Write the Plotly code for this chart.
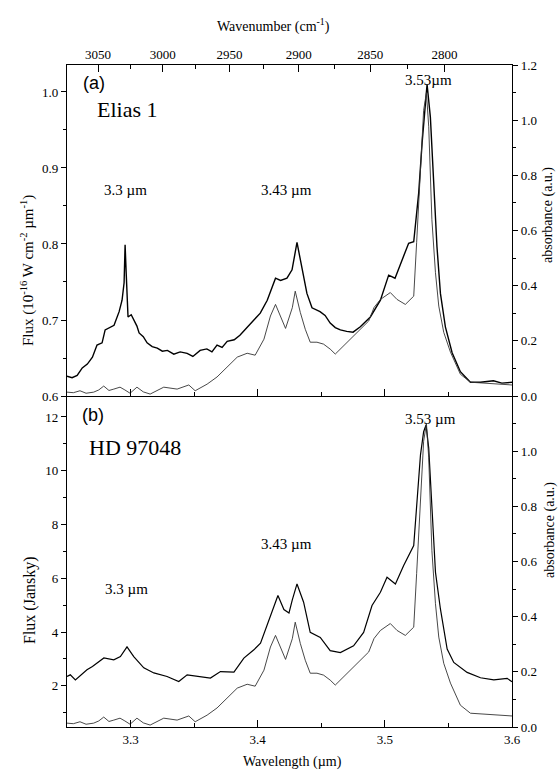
import plotly.graph_objects as go

# ---------------- data ----------------
wl_elias = [3.250, 3.254, 3.258, 3.262, 3.266, 3.270, 3.2736, 3.2776, 3.280, 3.284, 3.287, 3.291,
            3.2933, 3.2949, 3.2957, 3.2966, 3.298, 3.3005, 3.3028, 3.305, 3.3067, 3.310, 3.313, 3.317,
            3.321, 3.325, 3.329, 3.334, 3.339, 3.3445, 3.349, 3.3547, 3.360, 3.364, 3.368, 3.372, 3.376,
            3.3815, 3.386, 3.3917, 3.397, 3.402, 3.4075, 3.414, 3.418, 3.423, 3.427, 3.4309, 3.4348,
            3.4387, 3.4427, 3.449, 3.453, 3.457, 3.461, 3.465, 3.470, 3.475, 3.4807, 3.4886, 3.4965,
            3.503, 3.508, 3.5135, 3.5187, 3.5227, 3.5266, 3.5293, 3.532, 3.5332, 3.5358, 3.5384, 3.541,
            3.5437, 3.5476, 3.5529, 3.5594, 3.5673, 3.5752, 3.5854, 3.592, 3.600]
flux_elias = [0.626, 0.624, 0.627, 0.637, 0.642, 0.651, 0.667, 0.670, 0.687, 0.690, 0.693, 0.711,
              0.726, 0.749, 0.799, 0.760, 0.704, 0.707, 0.700, 0.692, 0.683, 0.678, 0.670, 0.665,
              0.663, 0.659, 0.660, 0.655, 0.658, 0.656, 0.652, 0.660, 0.662, 0.658, 0.667, 0.664, 0.672,
              0.674, 0.680, 0.691, 0.700, 0.709, 0.726, 0.755, 0.752, 0.755, 0.766, 0.802, 0.770,
              0.735, 0.716, 0.711, 0.706, 0.696, 0.690, 0.687, 0.685, 0.684, 0.691, 0.704, 0.726,
              0.759, 0.755, 0.779, 0.801, 0.803, 0.867, 0.933, 0.989, 1.010, 0.967, 0.888, 0.796,
              0.735, 0.691, 0.657, 0.632, 0.618, 0.618, 0.620, 0.617, 0.618]

wl_abs = [3.250, 3.255, 3.2602, 3.265, 3.271, 3.275, 3.2789, 3.283, 3.2868, 3.2917, 3.2955, 3.2996,
          3.305, 3.310, 3.3154, 3.321, 3.3261, 3.3366, 3.3458, 3.3508, 3.3602, 3.368, 3.376, 3.3839,
          3.3917, 3.398, 3.4049, 3.410, 3.414, 3.418, 3.4219, 3.4272, 3.4295, 3.4335, 3.4374, 3.4413,
          3.4466, 3.4518, 3.457, 3.461, 3.465, 3.470, 3.4785, 3.4873, 3.4915, 3.4965, 3.5043, 3.5096,
          3.5161, 3.5227, 3.525, 3.528, 3.5305, 3.5327, 3.5345, 3.537, 3.5398, 3.5424, 3.5463, 3.5516,
          3.5594, 3.5673, 3.5805, 3.590, 3.600]
absorbance = [0.014, 0.012, 0.019, 0.010, 0.014, 0.022, 0.036, 0.020, 0.025, 0.032, 0.022, 0.010,
              0.032, 0.015, 0.007, 0.020, 0.032, 0.025, 0.040, 0.019, 0.043, 0.069, 0.105, 0.141,
              0.155, 0.148, 0.206, 0.290, 0.332, 0.290, 0.245, 0.320, 0.380, 0.303, 0.242, 0.195,
              0.195, 0.188, 0.170, 0.152, 0.170, 0.195, 0.231, 0.272, 0.321, 0.350, 0.375, 0.350,
              0.332, 0.362, 0.556, 0.794, 1.036, 1.100, 0.976, 0.639, 0.447, 0.326, 0.231, 0.159,
              0.079, 0.050, 0.047, 0.043, 0.040]

wl_hd = [3.250, 3.2526, 3.2566, 3.261, 3.2657, 3.270, 3.2736, 3.279, 3.2868, 3.292, 3.2972, 3.3025,
         3.3104, 3.3183, 3.3287, 3.3379, 3.3445, 3.355, 3.3628, 3.3707, 3.3813, 3.3891, 3.397, 3.4022,
         3.4088, 3.4127, 3.4159, 3.4206, 3.4246, 3.4272, 3.4309, 3.4361, 3.4413, 3.4492, 3.457, 3.465,
         3.4754, 3.4833, 3.4899, 3.4965, 3.5017, 3.5083, 3.5148, 3.5227, 3.5253, 3.528, 3.5305, 3.5324,
         3.5345, 3.5372, 3.5398, 3.5437, 3.549, 3.5542, 3.5647, 3.5752, 3.5857, 3.5962, 3.600]
flux_hd = [2.35, 2.41, 2.22, 2.40, 2.60, 2.72, 2.86, 3.04, 2.97, 3.09, 3.45, 3.09, 2.67, 2.48, 2.35,
           2.16, 2.41, 2.35, 2.29, 2.53, 2.51, 3.03, 3.34, 3.59, 4.46, 4.96, 5.36, 4.84, 4.71, 5.20,
           5.79, 5.11, 3.99, 3.80, 3.31, 3.24, 3.49, 3.99, 4.99, 5.48, 6.04, 5.79, 6.48, 7.22, 8.72,
           10.58, 11.45, 11.70, 10.84, 8.47, 6.23, 4.86, 3.37, 2.87, 2.50, 2.30, 2.22, 2.28, 2.15]

wl_ticks = [3.3, 3.4, 3.5, 3.6]
wl_labels = ["3.3", "3.4", "3.5", "3.6"]
wn_major = [3050, 3000, 2950, 2900, 2850, 2800]
wn_minor = [3025, 2975, 2925, 2875, 2825]

# ---------------- geometry / styling ----------------
W, H = 559, 771
L, R, T, B = 67, 47, 65, 44
PW, PH = W - L - R, H - T - B
SERIF = "Liberation Serif, Times New Roman, serif"
SANS = "Liberation Sans, Arial, sans-serif"


def wn_pos(w):
    # position of a wavenumber tick on the wavelength-scaled top axis (as drawn in the figure)
    return 3.2744 + 0.931 * (10000.0 / w - 10000.0 / 3050)


def px(xp):
    return (xp - L) / PW


def py(yp):
    return (H - B - yp) / PH


fig = go.Figure()
fig.add_trace(go.Scatter(x=wl_elias, y=flux_elias, mode="lines", xaxis="x2", yaxis="y",
                         line=dict(color="black", width=1.4), showlegend=False))
fig.add_trace(go.Scatter(x=wl_abs, y=absorbance, mode="lines", xaxis="x2", yaxis="y2",
                         line=dict(color="#333333", width=0.9), showlegend=False))
fig.add_trace(go.Scatter(x=wl_hd, y=flux_hd, mode="lines", xaxis="x", yaxis="y3",
                         line=dict(color="black", width=1.2), showlegend=False))
fig.add_trace(go.Scatter(x=wl_abs, y=absorbance, mode="lines", xaxis="x", yaxis="y4",
                         line=dict(color="#333333", width=0.9), showlegend=False))
# invisible trace so the top (wavenumber) axis gets drawn
fig.add_trace(go.Scatter(x=wl_elias, y=flux_elias, mode="lines", xaxis="x3", yaxis="y",
                         line=dict(color="rgba(0,0,0,0)", width=0), hoverinfo="skip",
                         showlegend=False))

tickfont = dict(family=SERIF, size=13, color="black")
ax_common = dict(showgrid=False, zeroline=False, showline=True, linecolor="black", linewidth=1.2,
                 tickcolor="black", tickfont=tickfont)

fig.update_layout(
    width=W, height=H, autosize=False,
    margin=dict(l=L, r=R, t=T, b=B),
    paper_bgcolor="white", plot_bgcolor="white",
    xaxis=dict(domain=[0, 1], anchor="y3", range=[3.25, 3.6], tickmode="array",
               tickvals=wl_ticks, ticktext=wl_labels, ticks="inside", ticklen=7,
               minor=dict(tickvals=[3.35, 3.45, 3.55], ticks="inside", ticklen=4, tickcolor="black"),
               **ax_common),
    xaxis2=dict(domain=[0, 1], anchor="y", range=[3.25, 3.6], tickmode="array",
                tickvals=wl_ticks, showticklabels=False, ticks="inside", ticklen=7,
                minor=dict(tickvals=[3.35, 3.45, 3.55], ticks="inside", ticklen=4, tickcolor="black"),
                **ax_common),
    xaxis3=dict(domain=[0, 1], overlaying="x2", anchor="y", side="top", range=[3.25, 3.6],
                tickmode="array", showticklabels=True,
                tickvals=[wn_pos(w) for w in wn_major], ticktext=[str(w) for w in wn_major],
                ticks="inside", ticklen=7,
                minor=dict(tickvals=[wn_pos(w) for w in wn_minor], ticks="inside", ticklen=4,
                           tickcolor="black"),
                **ax_common),
    yaxis=dict(domain=[0.5, 1], anchor="x2", range=[0.6, 1.0355], tickmode="array",
               tickvals=[0.6, 0.7, 0.8, 0.9, 1.0], ticktext=["0.6", "0.7", "0.8", "0.9", "1.0"],
               ticks="outside", ticklen=5,
               minor=dict(tickvals=[0.65, 0.75, 0.85, 0.95], ticks="outside", ticklen=3, tickcolor="black"),
               **ax_common),
    yaxis2=dict(overlaying="y", anchor="x2", side="right", range=[0, 1.2], tickmode="array",
                tickvals=[0, 0.2, 0.4, 0.6, 0.8, 1.0, 1.2],
                ticktext=["0.0", "0.2", "0.4", "0.6", "0.8", "1.0", "1.2"],
                ticks="outside", ticklen=5,
                minor=dict(tickvals=[0.1, 0.3, 0.5, 0.7, 0.9, 1.1], ticks="outside", ticklen=3,
                           tickcolor="black"),
                **ax_common),
    yaxis3=dict(domain=[0, 0.5], anchor="x", range=[0.47, 12.78], tickmode="array",
                tickvals=[2, 4, 6, 8, 10, 12], ticks="outside", ticklen=5,
                minor=dict(tickvals=[1, 3, 5, 7, 9, 11], ticks="outside", ticklen=3, tickcolor="black"),
                **ax_common),
    yaxis4=dict(overlaying="y3", anchor="x", side="right", range=[0, 1.2], tickmode="array",
                tickvals=[0, 0.2, 0.4, 0.6, 0.8, 1.0],
                ticktext=["0.0", "0.2", "0.4", "0.6", "0.8", "1.0"],
                ticks="outside", ticklen=5,
                minor=dict(tickvals=[0.1, 0.3, 0.5, 0.7, 0.9, 1.1], ticks="outside", ticklen=3,
                           tickcolor="black"),
                **ax_common),
)


def note(text, xp, yp, size=15, family=SERIF, angle=0, xanchor="center"):
    fig.add_annotation(text=text, x=px(xp), y=py(yp), xref="paper", yref="paper",
                       showarrow=False, textangle=angle, xanchor=xanchor, yanchor="middle",
                       font=dict(family=family, size=size, color="black"))


# panel labels and names
note("(a)", 81, 83, size=18, family=SANS, xanchor="left")
note("(b)", 80, 415, size=18, family=SANS, xanchor="left")
note("Elias 1", 95, 109, size=22, xanchor="left")
note("HD 97048", 87, 447, size=22, xanchor="left")

# feature labels
note("3.3 µm", 125, 190, size=15)
note("3.43 µm", 286, 190, size=15)
note("3.53µm", 428, 80, size=15)
note("3.53 µm", 430, 419, size=15)
note("3.43 µm", 286, 544, size=15)
note("3.3 µm", 126, 589, size=15)

# axis titles
note("Wavenumber (cm<sup>-1</sup>)", 273, 25, size=14)
note("Wavelength (µm)", 292, 762, size=14)
note("Flux (10<sup>-16</sup> W cm<sup>-2</sup> µm<sup>-1</sup>)", 27, 271, size=15, angle=-90)
note("Flux (Jansky)", 30, 600, size=16, angle=-90)
note("absorbance (a.u.)", 548, 215, size=14, angle=-90)
note("absorbance (a.u.)", 550, 530, size=14, angle=-90)

fig.write_html("out.html")
